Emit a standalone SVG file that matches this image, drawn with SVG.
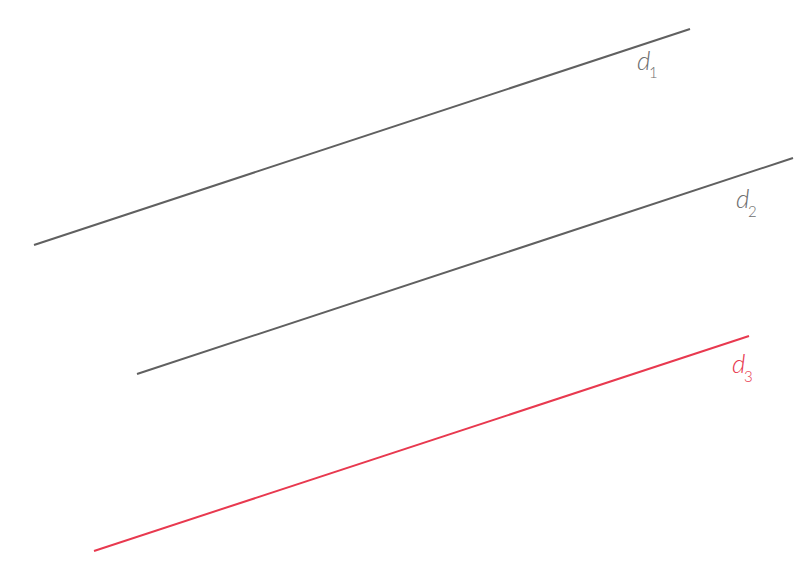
<svg xmlns="http://www.w3.org/2000/svg" width="810" height="581" viewBox="0 0 810 581">
<style>
.ln{stroke-width:2;fill:none}
.g{stroke:#606060}
.r{stroke:#e8394f}
.lab{font-family:Lato,"Open Sans",sans-serif;font-weight:300}
.d{font-style:italic;font-size:26px}
.s{font-size:15px}
</style>
<rect width="810" height="581" fill="#fff"/>
<g id="connectors">
<line id="line-d1" class="ln g" x1="34" y1="245" x2="690" y2="29"/>
<line id="line-d2" class="ln g" x1="137" y1="374" x2="793" y2="158"/>
<line id="line-d3" class="ln r" x1="94" y1="551" x2="749" y2="336"/>
</g>
<g id="label-d1" class="lab" fill="#6e6e6e">
<text class="d" x="637" y="70">d</text><text class="s" x="649" y="78">1</text>
</g>
<g id="label-d2" class="lab" fill="#6e6e6e">
<text class="d" x="736" y="208">d</text><text class="s" x="748" y="217">2</text>
</g>
<g id="label-d3" class="lab" fill="#e8394f">
<text class="d" x="732" y="373">d</text><text class="s" x="744" y="382">3</text>
</g>
</svg>
